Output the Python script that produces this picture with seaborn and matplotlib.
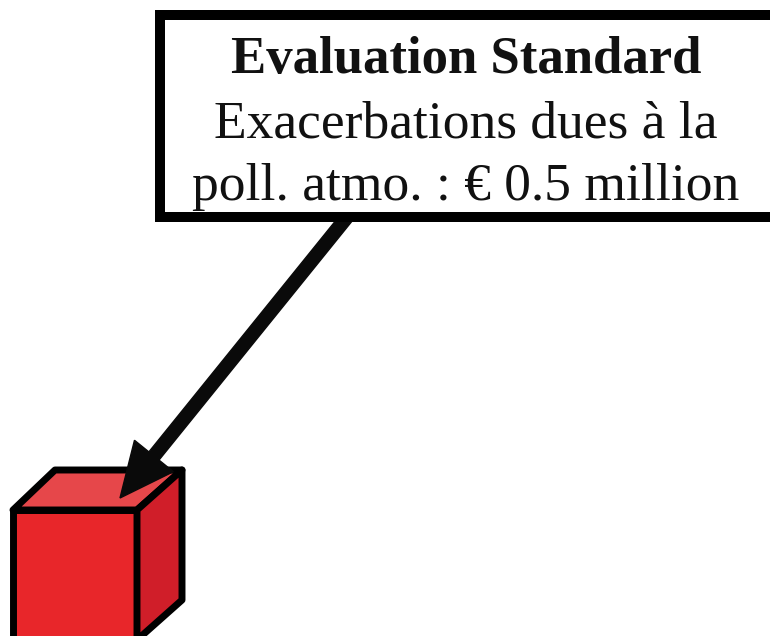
"""Evaluation Standard — encadré + flèche vers cube rouge."""

import matplotlib.pyplot as plt
import seaborn as sns
from matplotlib.patches import Polygon, Rectangle

sns.set_theme(style="white")
plt.rcParams["font.family"] = ["Liberation Serif", "DejaVu Serif"]

# texte de l'encadré
TITLE = "Evaluation Standard"
LINES = ["Exacerbations dues à la", "poll. atmo. : € 0.5 million"]

# couleurs du cube
FRONT = "#E8262A"
TOP = "#E6474A"
SIDE = "#D01E29"

W, H = 770, 636


def main():
    fig = plt.figure(figsize=(W / 100, H / 100), dpi=100)
    ax = fig.add_axes([0, 0, 1, 1])
    ax.set_xlim(0, W)
    ax.set_ylim(H, 0)
    ax.axis("off")

    # encadré
    ax.add_patch(Rectangle((160, 15), 700, 202, facecolor="white",
                           edgecolor="black", lw=7.2, zorder=3))
    ax.text(466, 60, TITLE, ha="center", va="center", fontsize=38,
            fontweight="bold", color="#111111", zorder=4)
    for i, line in enumerate(LINES):
        ax.text(466, 125 + i * 62, line, ha="center", va="center",
                fontsize=38.5, color="#111111", zorder=4)

    # cube
    edge = dict(edgecolor="black", lw=5, joinstyle="round", zorder=1)
    ax.add_patch(Polygon([(13, 510), (137, 510), (137, 660), (13, 660)],
                         facecolor=FRONT, **edge))
    ax.add_patch(Polygon([(13, 510), (55, 470), (182, 470), (137, 510)],
                         facecolor=TOP, **edge))
    ax.add_patch(Polygon([(137, 510), (182, 470), (182, 600), (137, 640)],
                         facecolor=SIDE, **edge))

    # flèche
    x0, y0, x1, y1 = 347, 217, 120, 498
    ax.arrow(x0, y0, x1 - x0, y1 - y0, width=13, head_width=50,
             head_length=54, length_includes_head=True,
             color="#0a0a0a", zorder=2)

    fig.savefig("out.png", dpi=100)
    plt.close(fig)


if __name__ == "__main__":
    main()
